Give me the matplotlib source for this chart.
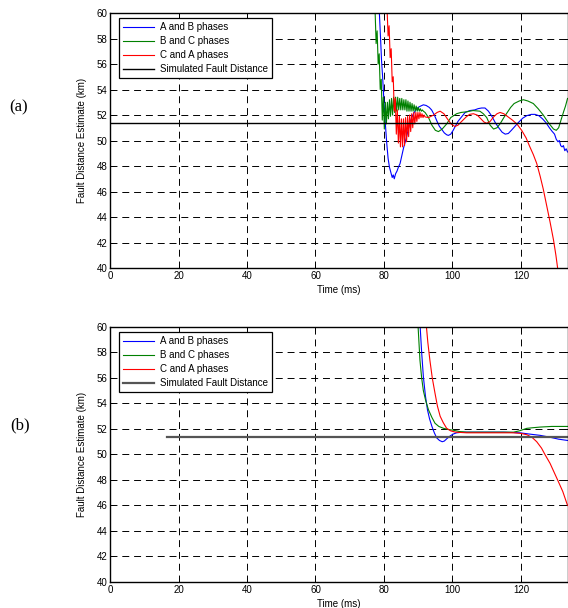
import matplotlib
matplotlib.use("Agg")
import matplotlib.pyplot as plt

plt.rcParams['font.family'] = ['Liberation Sans', 'DejaVu Sans']
plt.rcParams['font.size'] = 7
plt.rcParams['lines.scale_dashes'] = False

# fault distance (km) vs time (ms)
fault_dist = 51.4

# (a) first estimator
a_ab_t = [78.6, 79.0, 79.3, 79.6, 80.0, 80.4, 80.8, 81.2, 81.6, 82.0, 82.4, 82.7, 83.0, 83.4, 83.8,
          84.2, 84.7, 85.2, 85.7, 86.2, 86.6, 87.1, 87.6, 88.1, 88.6, 89.3, 90.0, 90.7, 91.5, 92.3,
          93.2, 93.9, 94.7, 95.5, 96.2, 96.8, 97.6, 98.3, 98.8, 99.5, 100.2, 100.8, 101.6, 102.5,
          103.7, 105.1, 106.5, 107.5, 108.5, 109.5, 110.5, 111.5, 112.5, 113.5, 114.5, 115.4, 116.3,
          117.2, 118.2, 119.2, 120.5, 121.7, 123.0, 124.1, 125.2, 126.3, 127.3, 128.3, 129.0, 129.8,
          130.3, 130.8, 131.2, 131.6, 132.0, 132.4, 132.8, 133.2, 133.6]
a_ab_v = [60.3, 58.0, 56.2, 55.0, 53.0, 51.3, 49.8, 48.6, 47.9, 47.5, 47.1, 47.3, 47.0, 47.4, 47.6,
          47.9, 48.2, 48.8, 49.4, 49.9, 50.3, 50.9, 51.4, 51.8, 52.1, 52.4, 52.6, 52.7, 52.8, 52.75,
          52.6, 52.4, 52.0, 51.5, 51.1, 50.9, 50.6, 50.45, 50.4, 50.5, 50.8, 51.1, 51.5, 51.8,
          52.2, 52.35, 52.4, 52.5, 52.55, 52.55, 52.3, 51.9, 51.4, 51.0, 50.65, 50.5, 50.55,
          50.8, 51.1, 51.4, 51.75, 51.95, 52.05, 52.05, 51.95, 51.7, 51.4, 51.0, 50.75, 50.5,
          50.1, 49.9, 50.0, 49.6, 49.5, 49.6, 49.2, 49.35, 49.1]

a_bc_t = [77.4, 77.7, 78.0, 78.3, 78.6, 78.9, 79.2, 79.5, 79.8, 80.1, 80.4, 80.7, 81.0, 81.3, 81.6,
          81.9, 82.2, 82.5, 82.8, 83.1, 83.4, 83.7, 84.0, 84.3, 84.6, 84.9, 85.2, 85.5, 85.8, 86.1,
          86.4, 86.7, 87.0, 87.3, 87.6, 87.9, 88.2, 88.5, 88.8, 89.1, 89.4, 89.7, 90.0, 90.3, 90.6,
          90.9, 91.2, 91.5, 92.0, 93.0, 94.0, 95.0, 95.9, 97.0, 98.3, 99.5, 101.2, 102.5, 104.1,
          106.0, 108.0, 109.0, 110.0, 111.0, 112.0, 113.0, 114.0, 115.0, 116.0, 117.0, 118.0, 119.5,
          120.7, 122.0, 123.6, 125.0, 126.5, 128.0, 129.5, 130.3, 131.0, 131.8, 132.5, 133.0, 133.6]
a_bc_v = [60.2, 57.6, 58.6, 56.0, 56.8, 54.0, 54.8, 51.6, 53.4, 50.9, 53.0, 51.3, 53.0, 51.7, 53.2,
          51.9, 53.3, 52.0, 53.4, 52.2, 53.4, 52.3, 53.4, 52.4, 53.3, 52.4, 53.3, 52.4, 53.2, 52.4,
          53.2, 52.3, 53.1, 52.3, 53.0, 52.3, 52.9, 52.3, 52.8, 52.3, 52.7, 52.3, 52.6, 52.3, 52.5,
          52.3, 52.4, 52.3, 52.2, 51.8, 51.2, 50.8, 50.7, 50.9, 51.3, 51.8, 52.1, 52.2, 52.25,
          52.35, 52.3, 52.1, 51.8, 51.2, 50.9, 51.0, 51.35, 51.8, 52.2, 52.6, 52.9, 53.1,
          53.2, 53.1, 52.9, 52.5, 52.0, 51.4, 50.9, 50.8, 51.0, 51.7, 52.3, 52.7, 53.3]

a_ca_t = [80.9, 81.2, 81.5, 81.8, 82.1, 82.4, 82.7, 83.0, 83.3, 83.6, 83.9, 84.2, 84.5, 84.8, 85.1,
          85.4, 85.7, 86.0, 86.3, 86.6, 86.9, 87.2, 87.5, 87.8, 88.1, 88.4, 88.7, 89.0, 89.3, 89.6,
          89.9, 90.2, 90.5, 90.8, 91.1, 91.4, 91.7, 92.0, 93.0, 94.5, 95.5, 96.4, 97.5, 98.5, 99.6,
          100.7, 101.6, 102.5, 104.0, 105.0, 106.1, 107.2, 108.3, 109.2, 110.0, 111.0, 112.0, 113.0,
          113.9, 115.0, 116.0, 117.5, 118.8, 120.2, 121.5, 122.6, 123.6, 124.6, 125.6, 126.5, 127.5,
          128.5, 129.5, 130.2, 130.8]
a_ca_v = [60.3, 58.2, 59.0, 56.5, 57.2, 54.6, 55.0, 52.3, 53.3, 50.5, 52.4, 49.8, 51.9, 49.5, 51.7,
          49.5, 51.7, 49.6, 51.8, 49.9, 51.9, 50.3, 52.0, 50.7, 52.1, 51.0, 52.2, 51.3, 52.2, 51.5,
          52.2, 51.7, 52.2, 51.8, 52.1, 51.8, 52.0, 51.85, 51.8, 52.0, 52.2, 52.3, 52.1, 51.7, 51.3,
          51.1, 51.2, 51.45, 51.85, 52.05, 52.1, 52.0, 51.7, 51.45, 51.35, 51.5, 51.85, 52.1,
          52.2, 52.1, 51.9, 51.6, 51.3, 50.8, 50.2, 49.5, 48.9, 48.2, 47.2, 46.2, 44.9,
          43.6, 42.2, 41.0, 39.8]

# (b) second estimator
b_ab_t = [90.5, 91.0, 91.5, 92.1, 92.7, 93.3, 94.0, 94.7, 95.4, 96.2, 97.0, 97.6, 98.4, 99.3, 100.2,
          101.2, 103.0, 106.0, 110.0, 115.0, 119.7, 122.5, 125.6, 128.5, 131.0, 133.6]
b_ab_v = [60.3, 58.0, 56.1, 54.6, 53.5, 52.8, 52.2, 51.7, 51.3, 51.1, 51.0, 51.05, 51.25, 51.45, 51.6,
          51.7, 51.75, 51.75, 51.75, 51.75, 51.7, 51.6, 51.5, 51.35, 51.2, 51.1]

b_bc_t = [89.9, 90.5, 91.0, 91.5, 92.2, 93.0, 94.0, 94.9, 96.0, 97.4, 99.0, 100.3, 102.0, 104.1,
          110.0, 117.8, 119.5, 121.7, 123.5, 125.6, 129.0, 133.6]
b_bc_v = [60.3, 57.4, 56.0, 55.0, 54.2, 53.5, 52.9, 52.45, 52.2, 52.05, 51.95, 51.9, 51.8, 51.75,
          51.75, 51.75, 51.85, 52.05, 52.1, 52.15, 52.2, 52.2]

b_ca_t = [92.3, 92.8, 93.4, 94.1, 94.9, 95.6, 96.4, 97.3, 98.3, 99.5, 100.9, 104.1, 110.0, 117.8,
          120.0, 121.7, 123.2, 124.6, 126.0, 127.0, 128.5, 130.7, 132.2, 133.6]
b_ca_v = [60.3, 58.8, 57.4, 56.0, 54.8, 53.8, 53.0, 52.5, 52.05, 51.85, 51.75, 51.7, 51.7, 51.7,
          51.65, 51.55, 51.35, 51.0, 50.5, 50.0, 49.3, 48.0, 47.1, 46.0]

sim_a_t = [0, 133.6]
sim_b_t = [16.6, 133.6]

labels = ['A and B phases', 'B and C phases', 'C and A phases', 'Simulated Fault Distance']
yticks = list(range(40, 61, 2))
xticks = list(range(0, 121, 20))

fig = plt.figure(figsize=(5.68, 6.08), dpi=100)
ax_a = fig.add_axes([0.1937, 0.5592, 0.8055, 0.4194])
ax_b = fig.add_axes([0.1937, 0.0428, 0.8055, 0.4194])

panels = [
    (ax_a, (a_ab_t, a_ab_v), (a_bc_t, a_bc_v), (a_ca_t, a_ca_v), sim_a_t, 'k', 1.0, '(a)'),
    (ax_b, (b_ab_t, b_ab_v), (b_bc_t, b_bc_v), (b_ca_t, b_ca_v), sim_b_t, '#555555', 1.6, '(b)'),
]

for ax, ab, bc, ca, sim_t, sim_col, sim_lw, tag in panels:
    ax.plot(ab[0], ab[1], color=(0, 0, 1), lw=0.8, label=labels[0])
    ax.plot(bc[0], bc[1], color=(0, 0.5, 0), lw=0.8, label=labels[1])
    ax.plot(ca[0], ca[1], color=(1, 0, 0), lw=0.8, label=labels[2])
    ax.plot(sim_t, [fault_dist, fault_dist], color=sim_col, lw=sim_lw, label=labels[3])

    ax.set_xlim(0, 133.6)
    ax.set_ylim(40, 60)
    ax.set_xticks(xticks)
    ax.set_yticks(yticks)
    ax.grid(True, color='k', linestyle=(0, (5, 3.5)), linewidth=0.7)
    ax.tick_params(direction='in', length=3, width=0.7, labelsize=7, pad=2,
                   top=True, right=True)
    for s in ax.spines.values():
        s.set_linewidth(1.0)

    ax.set_xlabel('Time (ms)', fontsize=7, labelpad=3)
    ax.set_ylabel('Fault Distance Estimate (km)', fontsize=7)
    ax.yaxis.set_label_coords(-0.051, 0.5)

    leg = ax.legend(loc='upper left', bbox_to_anchor=(0.02, 0.98), borderaxespad=0,
                    fontsize=7, fancybox=False, framealpha=1, edgecolor='k',
                    handlelength=3.2, labelspacing=0.42, borderpad=0.4, handletextpad=0.6)
    leg.get_frame().set_linewidth(0.9)

fig.text(19 / 568, 1 - 107 / 608, '(a)', family='Liberation Serif', fontsize=12, ha='center', va='center')
fig.text(20 / 568, 1 - 425 / 608, '(b)', family='Liberation Serif', fontsize=12, ha='center', va='center')

fig.savefig('out.png', dpi=100)
